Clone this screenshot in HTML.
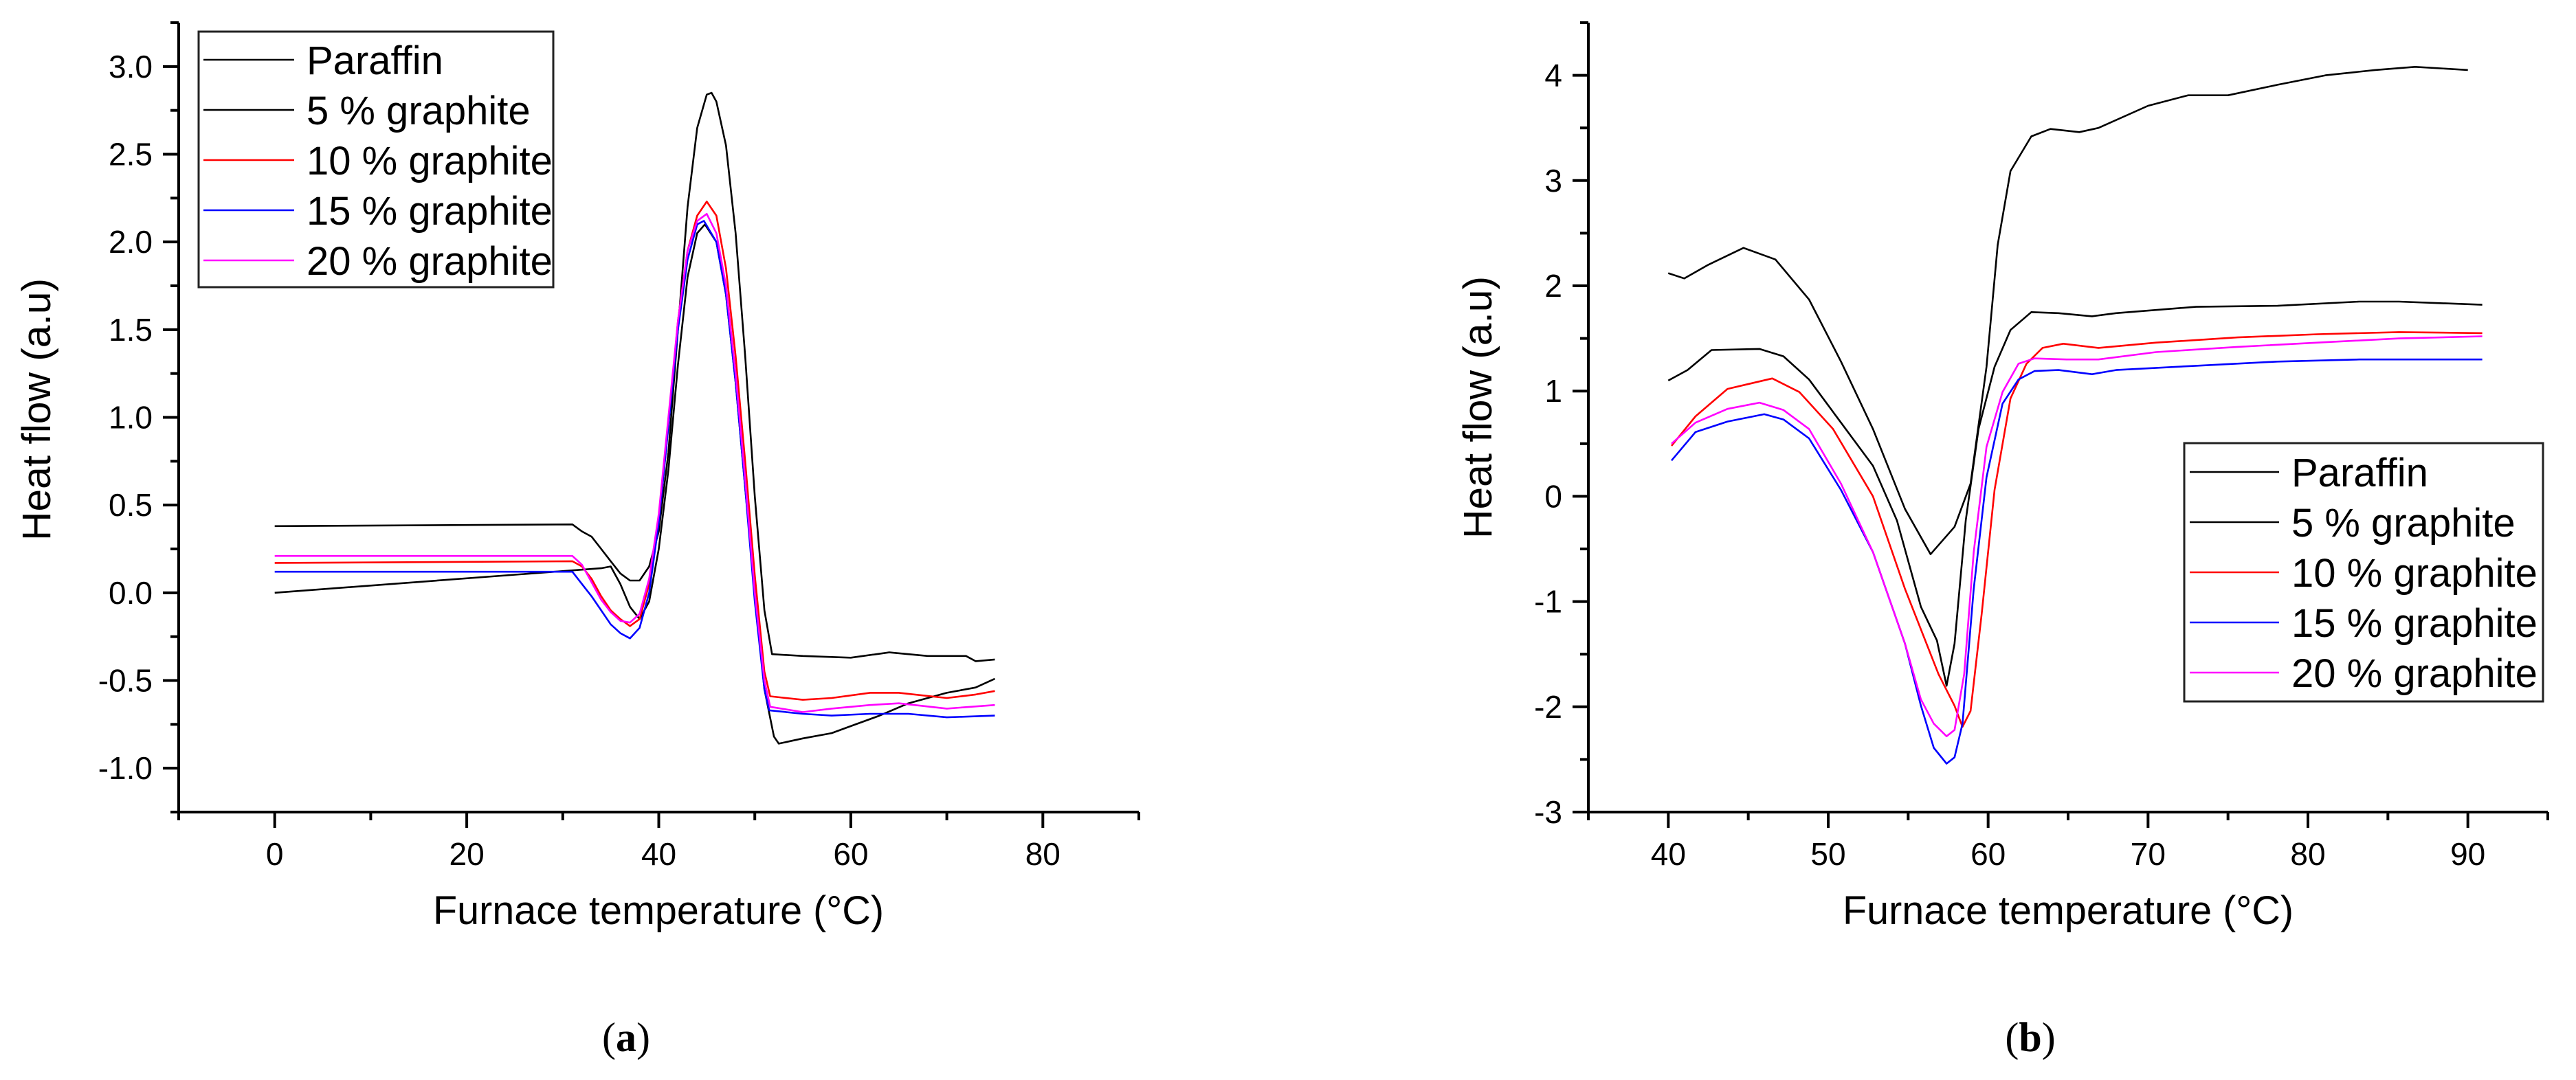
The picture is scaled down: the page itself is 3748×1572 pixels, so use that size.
<!DOCTYPE html>
<html><head><meta charset="utf-8"><style>
html,body{margin:0;padding:0;background:#fff;}
svg{display:block;}
text{font-family:"Liberation Sans",Arial,sans-serif;}
</style></head>
<body>
<svg id="fig" width="3748" height="1572" viewBox="0 0 3748 1572" xmlns="http://www.w3.org/2000/svg">
<rect width="3748" height="1572" fill="#fff"/>
<g id="chartA"></g>
<g id="chartB"></g>
<text x="911" y="1530" font-size="60" text-anchor="middle" style="font-family:'Liberation Serif',serif">(<tspan font-weight="bold">a</tspan>)</text>
<text x="2954" y="1530" font-size="60" text-anchor="middle" style="font-family:'Liberation Serif',serif">(<tspan font-weight="bold">b</tspan>)</text>
</svg>
<script>
const seriesNames = ["Paraffin","5 % graphite","10 % graphite","15 % graphite","20 % graphite"];
const seriesColors = ["#000","#000","#ff0000","#0000ff","#ff00ff"];

const aXTicks = [0,20,40,60,80];
const aYTicks = [3.0,2.5,2.0,1.5,1.0,0.5,0.0,-0.5,-1.0];
const aYLabels = ["3.0","2.5","2.0","1.5","1.0","0.5","0.0","-0.5","-1.0"];
const aParaffin = [[0,0.38],[31,0.39],[32,0.35],[33,0.32],[34,0.25],[35,0.18],[36,0.11],[37,0.07],[38,0.07],[39,0.15],[40,0.35],[41,0.8],[42,1.5],[43,2.2],[44,2.65],[45,2.84],[45.5,2.85],[46,2.8],[47,2.55],[48,2.05],[49,1.35],[50,0.55],[51,-0.1],[51.8,-0.35],[55,-0.36],[60,-0.37],[64,-0.34],[68,-0.36],[72,-0.36],[73,-0.39],[75,-0.38]];
const aG5 = [[0,0.0],[34,0.14],[35,0.15],[36,0.05],[37,-0.08],[38,-0.15],[39,-0.05],[40,0.25],[41,0.7],[42,1.3],[43,1.8],[44,2.05],[44.8,2.1],[46,2.0],[47,1.7],[48,1.2],[49,0.6],[50,0.0],[51,-0.55],[52,-0.82],[52.5,-0.86],[55,-0.83],[58,-0.8],[60,-0.76],[63,-0.7],[66,-0.63],[70,-0.57],[73,-0.54],[75,-0.49]];
const aG10 = [[0,0.17],[31,0.18],[32,0.15],[33,0.08],[34,-0.02],[35,-0.1],[36,-0.15],[37,-0.19],[38,-0.15],[39,0.05],[40,0.4],[41,0.95],[42,1.55],[43,1.95],[44,2.15],[45,2.23],[46,2.15],[47,1.85],[48,1.35],[49,0.75],[50,0.1],[51,-0.45],[51.6,-0.59],[55,-0.61],[58,-0.6],[62,-0.57],[65,-0.57],[70,-0.6],[73,-0.58],[75,-0.56]];
const aG15 = [[0,0.12],[31,0.12],[32,0.05],[33,-0.02],[34,-0.1],[35,-0.18],[36,-0.23],[37,-0.26],[38,-0.2],[39,0.0],[40,0.4],[41,0.95],[42,1.5],[43,1.9],[44,2.1],[44.7,2.12],[46,2.0],[47,1.7],[48,1.2],[49,0.6],[50,-0.05],[51,-0.55],[51.5,-0.67],[55,-0.69],[58,-0.7],[62,-0.69],[66,-0.69],[70,-0.71],[75,-0.7]];
const aG20 = [[0,0.21],[31,0.21],[32,0.16],[33,0.06],[34,-0.04],[35,-0.11],[36,-0.16],[37,-0.17],[38,-0.12],[39,0.08],[40,0.45],[41,1.0],[42,1.55],[43,1.95],[44,2.12],[45,2.16],[46,2.05],[47,1.75],[48,1.25],[49,0.65],[50,0.0],[51,-0.5],[51.6,-0.65],[55,-0.68],[58,-0.66],[62,-0.64],[65,-0.63],[70,-0.66],[75,-0.64]];

const bXTicks = [40,50,60,70,80,90];
const bYTicks = [4,3,2,1,0,-1,-2,-3];
const bYLabels = ["4","3","2","1","0","-1","-2","-3"];
const bParaffin = [[40,2.12],[41,2.07],[42.5,2.2],[44.7,2.36],[46.7,2.25],[48.8,1.87],[50.8,1.28],[52.8,0.64],[54.8,-0.12],[56.4,-0.55],[57.9,-0.29],[58.9,0.12],[59.9,1.23],[60.6,2.39],[61.4,3.09],[62.7,3.42],[63.9,3.49],[65.7,3.46],[66.9,3.5],[70,3.71],[72.5,3.81],[75,3.81],[78.1,3.91],[81.1,4.0],[84.2,4.05],[86.7,4.08],[90,4.05]];
const bG5 = [[40,1.1],[41.2,1.2],[42.7,1.39],[45.7,1.4],[47.2,1.33],[48.8,1.11],[50.8,0.7],[52.8,0.29],[54.3,-0.23],[55.8,-1.05],[56.8,-1.37],[57.4,-1.8],[57.9,-1.4],[58.6,-0.23],[59.4,0.64],[60.4,1.23],[61.4,1.58],[62.7,1.75],[64.4,1.74],[66.5,1.71],[68,1.74],[73,1.8],[78.1,1.81],[83.2,1.85],[85.7,1.85],[90.9,1.82]];
const bG10 = [[40.2,0.48],[41.7,0.76],[43.7,1.02],[46.5,1.12],[48.2,0.99],[50.3,0.64],[52.8,0],[54.8,-0.88],[56.9,-1.69],[57.9,-1.99],[58.4,-2.19],[58.9,-2.04],[59.6,-1.11],[60.4,0.06],[61.4,0.93],[62.4,1.26],[63.4,1.41],[64.7,1.45],[66.9,1.41],[70.5,1.46],[75.6,1.51],[80.6,1.54],[85.7,1.56],[90.9,1.55]];
const bG15 = [[40.2,0.34],[41.7,0.61],[43.7,0.71],[46,0.78],[47.2,0.73],[48.8,0.55],[50.8,0.06],[52.8,-0.53],[54.8,-1.4],[55.8,-1.99],[56.6,-2.39],[57.4,-2.54],[57.9,-2.48],[58.4,-2.16],[59.1,-0.88],[59.9,0.18],[60.9,0.88],[61.9,1.11],[62.9,1.19],[64.4,1.2],[66.5,1.16],[68,1.2],[73,1.24],[78.1,1.28],[83.2,1.3],[90.9,1.3]];
const bG20 = [[40.2,0.5],[41.7,0.7],[43.7,0.83],[45.7,0.89],[47.2,0.82],[48.8,0.64],[50.8,0.12],[52.8,-0.53],[54.8,-1.4],[55.8,-1.93],[56.6,-2.16],[57.4,-2.28],[57.9,-2.22],[58.5,-1.69],[59.1,-0.53],[59.9,0.47],[60.9,0.99],[61.9,1.26],[62.9,1.31],[64.9,1.3],[66.9,1.3],[70.5,1.37],[75.6,1.42],[80.6,1.46],[85.7,1.5],[90.9,1.52]];

const NS="http://www.w3.org/2000/svg";
function mk(tag, attrs, parent){const e=document.createElementNS(NS,tag);for(const k in attrs)e.setAttribute(k,attrs[k]);parent.appendChild(e);return e;}

function drawChart(g, cfg){
  const sx = v => cfg.x0 + (v-cfg.xmin)/(cfg.xmax-cfg.xmin)*(cfg.x1-cfg.x0);
  const sy = v => cfg.y1 - (v-cfg.ymin)/(cfg.ymax-cfg.ymin)*(cfg.y1-cfg.y0);
  // series
  cfg.series.forEach((s,i)=>{
    const p = mk('polyline',{points:s.map(d=>sx(d[0]).toFixed(1)+','+sy(d[1]).toFixed(1)).join(' '),fill:'none',stroke:seriesColors[i],'stroke-width':2.6,'stroke-linejoin':'round'},g);
    
    
  });
  // axes
  const ax = mk('path',{d:`M${cfg.x0},${cfg.y0} V${cfg.y1} H${cfg.x1}`,fill:'none',stroke:'#000','stroke-width':4},g);
  
  
  // x ticks
  for(let v=cfg.xmin; v<=cfg.xmax+1e-9; v+=cfg.xminor){
    const major = cfg.xTicks.some(t=>Math.abs(t-v)<1e-6);
    const t = mk('line',{x1:sx(v),x2:sx(v),y1:cfg.y1,y2:cfg.y1+(major?23:12),stroke:'#000','stroke-width':4},g);
    
    
  }
  cfg.xTicks.forEach(v=>{
    const t = mk('text',{x:sx(v),y:cfg.y1+77,'font-size':46,'text-anchor':'middle'},g);
    t.textContent = String(v);
    
    
  });
  for(let v=cfg.ymin; v<=cfg.ymax+1e-9; v+=cfg.yminor){
    const major = cfg.yTicks.some(t=>Math.abs(t-v)<1e-6);
    const t = mk('line',{x1:cfg.x0-(major?23:12),x2:cfg.x0,y1:sy(v),y2:sy(v),stroke:'#000','stroke-width':4},g);
    
    
  }
  cfg.yTicks.forEach((v,i)=>{
    const t = mk('text',{x:cfg.x0-38,y:sy(v)+16,'font-size':46,'text-anchor':'end'},g);
    t.textContent = cfg.yLabels[i];
    
    
  });
  // titles
  const xt = mk('text',{x:cfg.xtX,y:1345,'font-size':58,'text-anchor':'middle',textLength:656,lengthAdjust:'spacingAndGlyphs'},g);
  xt.textContent = 'Furnace temperature (°C)';
  
  
  const yt = mk('text',{x:0,y:0,'font-size':58,'text-anchor':'middle',textLength:382,lengthAdjust:'spacingAndGlyphs',transform:`translate(${cfg.ytX},${cfg.ytY}) rotate(-90)`},g);
  yt.textContent = 'Heat flow (a.u)';
  
  
  // legend
  const L = cfg.legend;
  const lg = mk('g',{},g);
  
  
  mk('rect',{x:L.x,y:L.y,width:L.w,height:L.h,fill:'#fff',stroke:'#222','stroke-width':3},lg);
  seriesNames.forEach((n,i)=>{
    const yy = L.rowY + i*L.dy;
    const e = mk('g',{},lg);
    
    
    mk('line',{x1:L.lx0,x2:L.lx1,y1:yy,y2:yy,stroke:seriesColors[i],'stroke-width':2.6},e);
    const t = mk('text',{x:L.tx,y:yy+21,'font-size':58},e);
    t.textContent = n;
  });
}

drawChart(document.getElementById('chartA'),{
  id:'chart-a', x0:260,x1:1657,y0:33,y1:1182,xmin:-10,xmax:90,ymin:-1.25,ymax:3.25,
  xminor:10,yminor:0.25,xTicks:aXTicks,yTicks:aYTicks,yLabels:aYLabels,
  series:[aParaffin,aG5,aG10,aG15,aG20], xtX:958, ytX:73, ytY:596,
  legend:{x:289,y:46,w:516,h:372,rowY:87,dy:73,lx0:296,lx1:428,tx:446}
});
drawChart(document.getElementById('chartB'),{
  id:'chart-b', x0:2311,x1:3707,y0:33,y1:1182,xmin:35,xmax:95,ymin:-3,ymax:4.5,
  xminor:5,yminor:0.5,xTicks:bXTicks,yTicks:bYTicks,yLabels:bYLabels,
  series:[bParaffin,bG5,bG10,bG15,bG20], xtX:3009, ytX:2170, ytY:593,
  legend:{x:3178,y:645,w:522,h:376,rowY:687,dy:73,lx0:3186,lx1:3316,tx:3334}
});
</script>
</body></html>
